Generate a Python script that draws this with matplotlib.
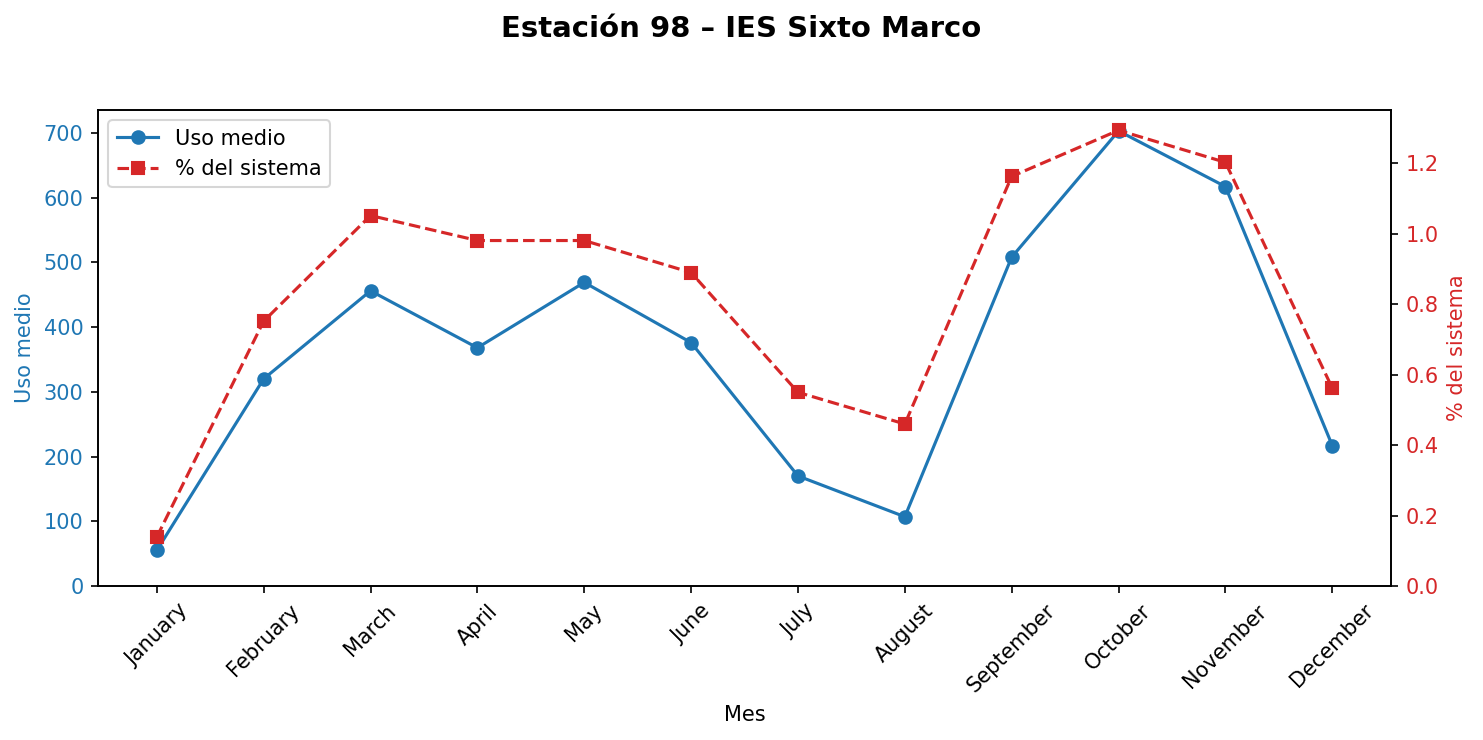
import numpy as np
import matplotlib
matplotlib.use('Agg')
import matplotlib.pyplot as plt

# datos
meses = ['January', 'February', 'March', 'April', 'May', 'June',
         'July', 'August', 'September', 'October', 'November', 'December']
uso_medio = [55, 320, 456, 368, 469, 376, 170, 107, 508, 703, 617, 217]
pct_sistema = [0.139, 0.752, 1.052, 0.981, 0.981, 0.890, 0.550, 0.460, 1.163, 1.294, 1.203, 0.562]

fig, ax1 = plt.subplots(figsize=(1483 / 150, 740 / 150), dpi=150)
fig.subplots_adjust(left=0.0661, right=0.938, top=0.8514, bottom=0.2081)

c1 = 'tab:blue'
c2 = 'tab:red'

l1, = ax1.plot(meses, uso_medio, marker='o', color=c1, label='Uso medio')
ax1.set_xlabel('Mes')
ax1.set_ylabel('Uso medio', color=c1)
ax1.tick_params(axis='y', labelcolor=c1)
ax1.set_ylim(bottom=0)
ax1.tick_params(axis='x', rotation=45)

ax2 = ax1.twinx()
l2, = ax2.plot(meses, pct_sistema, marker='s', linestyle='--', color=c2, label='% del sistema')
ax2.set_ylabel('% del sistema', color=c2)
ax2.tick_params(axis='y', labelcolor=c2)
ax2.set_ylim(bottom=0)

ax1.legend([l1, l2], [l1.get_label(), l2.get_label()], loc='upper left')

fig.suptitle('Estación 98 – IES Sixto Marco', fontsize=14, fontweight='bold')

plt.savefig('out.png', dpi=150)
